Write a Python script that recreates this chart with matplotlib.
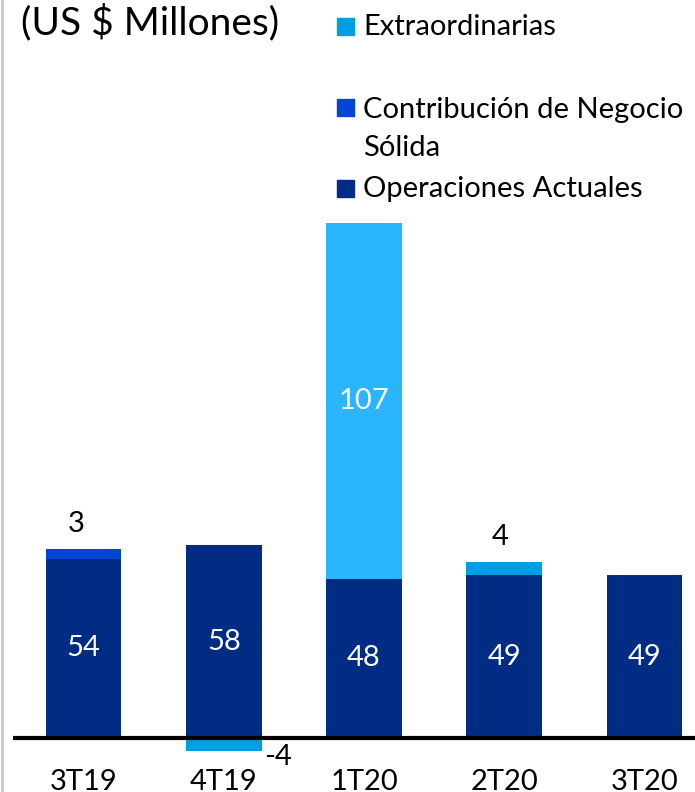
import matplotlib.pyplot as plt
import numpy as np
from matplotlib.lines import Line2D
from matplotlib.patches import Rectangle

plt.rcParams["font.family"] = ["Lato", "DejaVu Sans"]

quarters = ["3T19", "4T19", "1T20", "2T20", "3T20"]
actuales = [54, 58, 48, 49, 49]
contribucion = [3, 0, 0, 0, 0]
extraordinarias = [0, -4, 107, 4, 0]

navy = "#002C84"
blue = "#0046D5"
cyan = "#009FE3"
cyan_big = "#2BB5FF"

fig = plt.figure(figsize=(6.95, 7.92), dpi=100)
ax = fig.add_axes([13 / 695, 32 / 792, 682 / 695, 760 / 792])

x = np.arange(len(quarters))
w = 0.54
ax.bar(x, actuales, w, color=navy)
ax.bar(x, contribucion, w, bottom=actuales, color=blue)
# extraordinary items stack on top when positive, hang below zero when negative
ext_bottom = [a + c if e > 0 else 0 for a, c, e in zip(actuales, contribucion, extraordinarias)]
ext_colors = [cyan_big if e > 50 else cyan for e in extraordinarias]
ax.bar(x, extraordinarias, w, bottom=ext_bottom, color=ext_colors)

ax.axhline(0, color="black", lw=3)

fs = 21
for i, v in enumerate(actuales):
    ax.text(i, v / 2, str(v), color="white", ha="center", va="center", fontsize=fs)
for i, e in enumerate(extraordinarias):
    if e > 50:
        ax.text(i, ext_bottom[i] + e / 2, str(e), color="white", ha="center", va="center", fontsize=fs)
    elif e > 0:
        ax.text(i - 0.03, ext_bottom[i] + e + 7.5, str(e), color="black", ha="center", va="center", fontsize=fs)
    elif e < 0:
        ax.text(i + 0.39, e - 1.8, str(e), color="black", ha="center", va="center", fontsize=fs)
for i, c in enumerate(contribucion):
    if c:
        ax.text(i - 0.05, actuales[i] + c + 7.5, str(c), color="black", ha="center", va="center", fontsize=fs)

ax.set_xlim(-0.503, 4.36)
ax.set_ylim(-6.63, 222.3)
ax.set_xticks(x)
ax.set_xticklabels(quarters, fontsize=fs)
ax.tick_params(axis="x", length=0, pad=6.5)
ax.set_yticks([])
for s in ax.spines.values():
    s.set_visible(False)

# left border line
fig.add_artist(Line2D([2 / 695, 2 / 695], [0, 1], color="#C8C8C8", lw=2))

fig.text(21 / 695, 1 - 22 / 792, "(US $ Millones)", fontsize=28, ha="left", va="center")

# legend: square top, then text lines with their baselines (pixels from top)
legend_items = [
    (cyan, 18, ["Extraordinarias"], [35]),
    (blue, 99, ["Contribución de Negocio", "Sólida"], [118, 156]),
    (navy, 180, ["Operaciones Actuales"], [197]),
]
for col, top, lines, baselines in legend_items:
    fig.add_artist(Rectangle((337 / 695, 1 - (top + 17) / 792), 17 / 695, 17 / 792,
                             color=col, transform=fig.transFigure))
    for line, bl in zip(lines, baselines):
        fig.text(363 / 695, 1 - bl / 792, line, fontsize=fs, ha="left", va="baseline")

fig.savefig("out.png", dpi=100)
